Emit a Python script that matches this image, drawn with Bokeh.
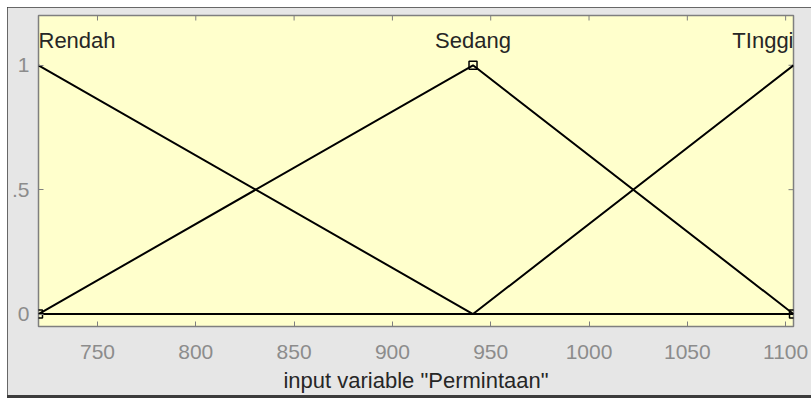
from bokeh.plotting import figure
from bokeh.models import Range1d, FixedTicker, LinearAxis, ColumnDataSource, Spacer
from bokeh.layouts import column, row
from bokeh.core.properties import value
from bokeh.embed import file_html
from bokeh.resources import INLINE

# ---- data ----
mf_names = ["Rendah", "Sedang", "TInggi"]
x_points = [720, 941, 1104]
rendah_y = [1, 0, 0]
sedang_y = [0, 1, 0]
tinggi_y = [0, 0, 1]
label_y = 1.1
x_ticks = [750, 800, 850, 900, 950, 1000, 1050, 1100]
y_ticks = [0, 0.5, 1]
y_tick_labels = ["0", ".5", "1"]
x_label = 'input variable "Permintaan"'

FONT = "Liberation Sans"
XMIN, XMAX = 720, 1104
YMIN, YMAX = -0.05, 1.2

p = figure(width=804, height=388, output_backend="svg", toolbar_location=None,
           x_range=Range1d(XMIN, XMAX), y_range=Range1d(YMIN, YMAX),
           x_axis_location=None, y_axis_location=None,
           min_border_left=31, min_border_right=18, min_border_top=8, min_border_bottom=69)
p.background_fill_color = "#ffffcc"
p.border_fill_color = "#e6e6e6"
p.outline_line_color = "#7f7f7f"
p.outline_line_width = 1.5
p.xgrid.visible = False
p.ygrid.visible = False

def style_axis(ax):
    ax.axis_line_color = None
    ax.major_tick_in = 5
    ax.major_tick_out = 0
    ax.minor_tick_line_color = None
    ax.major_tick_line_color = "#7f7f7f"
    ax.major_tick_line_width = 1
    ax.major_label_text_font = FONT
    ax.major_label_text_color = "#8c8c8c"
    ax.major_label_text_font_size = "21px"

xb = LinearAxis(ticker=FixedTicker(ticks=x_ticks))
style_axis(xb)
xb.major_label_standoff = 18
xb.axis_label = x_label
xb.axis_label_text_font = FONT
xb.axis_label_text_font_style = "normal"
xb.axis_label_text_font_size = "22px"
xb.axis_label_text_line_height = 1.0
xb.axis_label_text_color = "#262626"
xb.axis_label_standoff = 6
p.add_layout(xb, "below")

yl = LinearAxis(ticker=FixedTicker(ticks=y_ticks))
style_axis(yl)
yl.major_label_overrides = {t: s for t, s in zip(y_ticks, y_tick_labels)}
yl.major_label_standoff = 9
p.add_layout(yl, "left")

# inward ticks on the top and right edges of the box
tx = (YMAX - YMIN) * 5 / 311
ty = (XMAX - XMIN) * 5 / 755
p.segment(x0=x_ticks, y0=[YMAX] * len(x_ticks), x1=x_ticks, y1=[YMAX - tx] * len(x_ticks),
          line_color="#7f7f7f", line_width=1)
p.segment(x0=[XMAX] * len(y_ticks), y0=y_ticks, x1=[XMAX - ty] * len(y_ticks), y1=y_ticks,
          line_color="#7f7f7f", line_width=1)

# membership functions
for ys in (rendah_y, sedang_y, tinggi_y):
    p.line(x_points, ys, line_color="black", line_width=2)

# handles of the selected mf (Sedang)
p.scatter(x_points, sedang_y, marker="square", size=8, fill_color=None,
          line_color="black", line_width=1.5)

# labels
src = ColumnDataSource(dict(x=x_points, y=[label_y] * 3, t=mf_names,
                            align=["left", "center", "right"]))
p.text(x="x", y="y", text="t", source=src, text_align="align", text_baseline="middle",
       text_font=value(FONT), text_font_size="22px", text_color="#262626")

WHITE = {"background-color": "#ffffff"}
layout = column(Spacer(width=811, height=7, styles=WHITE),
                row(Spacer(width=7, height=388, styles=WHITE), p),
                row(Spacer(width=7, height=3, styles=WHITE), Spacer(width=804, height=3)),
                styles={"background-color": "#3c3c3c"})

open("out.html", "w").write(file_html(layout, INLINE))
